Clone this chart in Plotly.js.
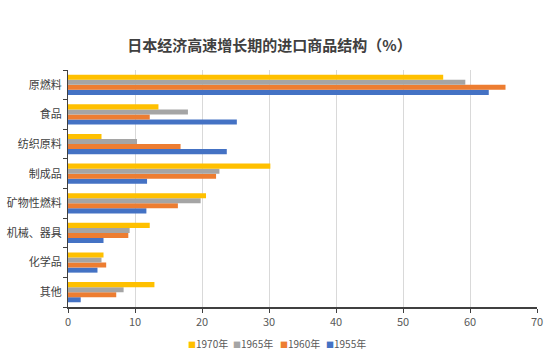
<!DOCTYPE html>
<html><head><meta charset="utf-8">
<script src="https://cdn.plot.ly/plotly-3.0.1.min.js"></script>
<style>html,body{margin:0;padding:0;background:#fff}#chart{width:550px;height:363px}</style>
</head><body><div id="chart"></div>
<script>
const categories = ['原燃料','食品','纺织原料','制成品','矿物性燃料','机械、器具','化学品','其他'];
const years = ['1955年','1960年','1965年','1970年'];
const v1955 = [62.8, 25.2, 23.7, 11.8, 11.7, 5.3, 4.4, 1.9];
const v1960 = [65.3, 12.2, 16.8, 22.1, 16.4, 9.0, 5.7, 7.2];
const v1965 = [59.3, 17.9, 10.3, 22.6, 19.8, 9.2, 5.0, 8.3];
const v1970 = [56.0, 13.5, 5.0, 30.2, 20.6, 12.2, 5.3, 12.9];
const colors = ['#4472C4','#ED7D31','#A5A5A5','#FFC000'];
const series = [v1955, v1960, v1965, v1970];

const font = '"Noto Sans CJK SC", "Noto Sans", sans-serif';
const traces = series.map((vals, i) => ({
  type: 'bar', orientation: 'h', name: years[i],
  y: categories, x: vals, showlegend: false,
  marker: {color: colors[i]}, hoverinfo: 'x+y+name'
}));

// compact legend as annotations (1970, 1965, 1960, 1955 left to right)
const legendX = [0.252, 0.348, 0.448, 0.545];
const annotations = [3, 2, 1, 0].map((i, k) => ({
  xref: 'paper', yref: 'paper', x: legendX[k], y: -0.152, xanchor: 'left', yanchor: 'middle',
  showarrow: false, text: '<span style="color:' + colors[i] + ';font-size:8px">■</span>' + years[i],
  font: {family: font, size: 10, color: '#595959'}
}));

const layout = {
  width: 550, height: 363,
  margin: {l: 68, r: 13, t: 70, b: 56},
  paper_bgcolor: '#fff', plot_bgcolor: '#fff',
  title: {text: '日本经济高速增长期的进口商品结构（%）', x: 0.49, xanchor: 'center', xref: 'container', y: 0.875, yanchor: 'middle', yref: 'container',
    font: {family: font, size: 15, color: '#404040', weight: 'bold'}},
  barmode: 'group', bargap: 0.32, bargroupgap: 0,
  xaxis: {range: [0, 70], dtick: 10, tick0: 0, showgrid: true, gridcolor: '#D9D9D9', gridwidth: 1,
    zeroline: false, showline: true, linecolor: '#404040', linewidth: 1.5, ticks: 'outside', ticklen: 4, tickcolor: '#404040',
    tickfont: {family: font, size: 11, color: '#595959'}},
  yaxis: {type: 'category', categoryorder: 'array', categoryarray: categories.slice().reverse(),
    showline: true, linecolor: '#404040', linewidth: 1.5, ticks: 'outside', ticklen: 4, tickcolor: '#404040',
    tickson: 'boundaries', showgrid: false, tickfont: {family: font, size: 11, color: '#404040'}, ticksuffix: ' '},
  annotations: annotations,
  showlegend: false
};
Plotly.newPlot('chart', traces, layout, {displayModeBar: false, staticPlot: true});
</script></body></html>
